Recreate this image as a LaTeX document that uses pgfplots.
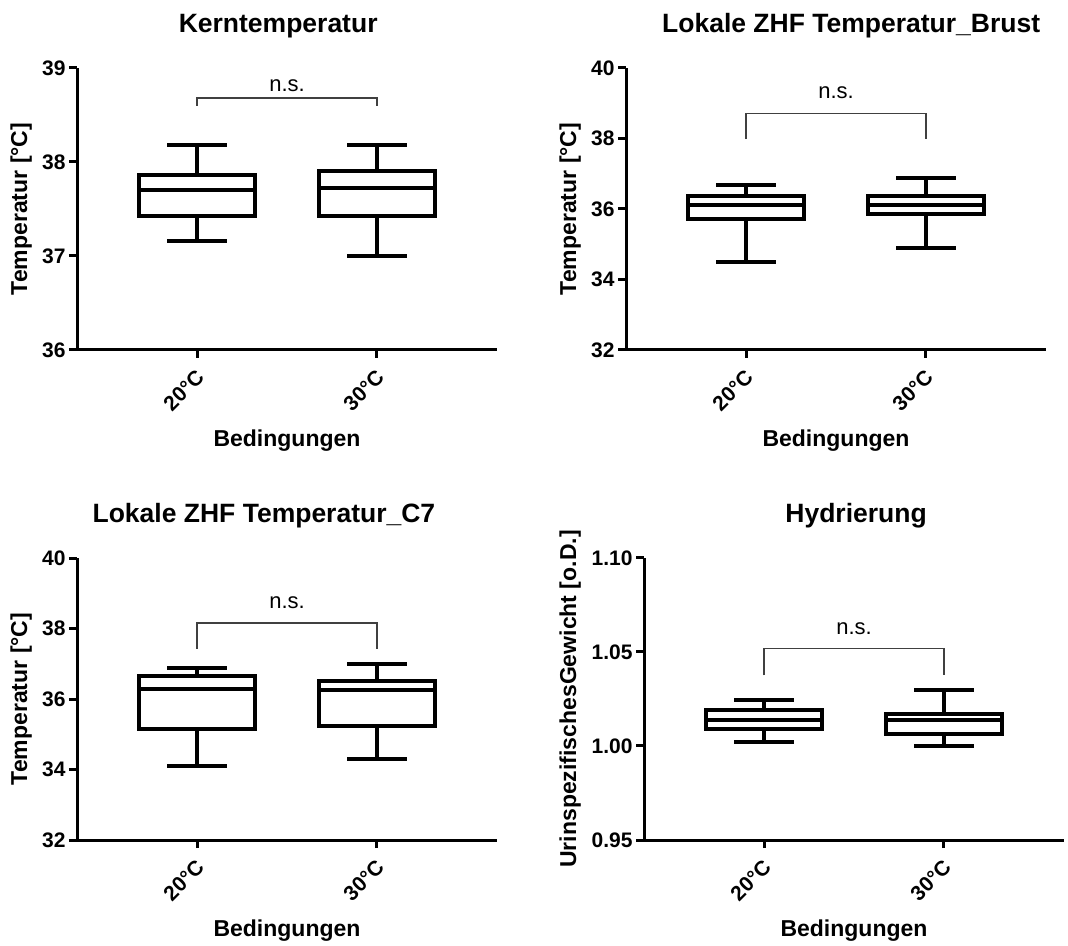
\documentclass[border=0pt]{standalone}
\usepackage{fontspec}
\setmainfont{Liberation Sans}
\usepackage{pgfplots}
\pgfplotsset{compat=1.18}
\usepgfplotslibrary{statistics}

\pgfplotsset{
  panel/.style={
    scale only axis, width=420pt, height=282pt,
    axis x line=bottom, axis y line=left,
    axis line style={-, line width=3pt},
    xmin=-0.667, xmax=1.667,
    xtick={0,1}, xticklabels={20°C,30°C},
    tick align=outside, major tick length=8pt,
    every tick/.style={black, line width=3pt},
    tick label style={font=\fontsize{21}{25}\selectfont\bfseries},
    xticklabel style={xshift=4pt, yshift=-15pt, rotate=45, anchor=east, inner sep=1pt},
    /pgf/number format/assume math mode=true,
    xlabel={Bedingungen},
    label style={font=\fontsize{23}{27}\selectfont\bfseries, inner sep=0pt},
    xlabel style={at={(axis description cs:0.5,-0.284)}, anchor=north},
    title style={font=\fontsize{26.5}{31}\selectfont\bfseries, anchor=base, inner sep=0pt},
    clip=false,
    boxplot/draw direction=y,
    boxplot/box extend=0.64,
    boxplot/whisker extend=0.33,
  },
  bx/.style={black, line width=4pt, fill=white, solid},
}
\tikzset{
  br/.style={black!75, line width=1.3pt},
  ns/.style={font=\fontsize{22}{26}\selectfont, anchor=base, inner sep=0pt},
}

\begin{document}
\begin{tikzpicture}
\useasboundingbox (0,0) rectangle (1068pt,945pt);

% Kerntemperatur
\begin{axis}[panel, at={(77pt,595pt)}, anchor=south west,
  ymin=36, ymax=39, ytick={36,37,38,39},
  ylabel={Temperatur [°C]},
  ylabel style={at={(axis description cs:-0.107,0.5)}, anchor=south},
  title={Kerntemperatur}, title style={at={(axis description cs:0.479,1.105)}}]
\addplot[bx, boxplot prepared={draw position=0, lower whisker=37.16, lower quartile=37.43, median=37.70, upper quartile=37.86, upper whisker=38.18}] coordinates {};
\addplot[bx, boxplot prepared={draw position=1, lower whisker=37.00, lower quartile=37.43, median=37.72, upper quartile=37.90, upper whisker=38.18}] coordinates {};
\draw[br] (axis cs:0,38.60) -- (axis cs:0,38.68) -- (axis cs:1,38.68) -- (axis cs:1,38.60);
\node[ns, yshift=7pt] at (axis cs:0.5,38.68) {n.s.};
\end{axis}

% Lokale ZHF Temperatur_Brust
\begin{axis}[panel, at={(626pt,595pt)}, anchor=south west,
  ymin=32, ymax=40, ytick={32,34,36,38,40},
  ylabel={Temperatur [°C]},
  ylabel style={at={(axis description cs:-0.107,0.5)}, anchor=south},
  title={Lokale ZHF Temperatur\_Brust}, title style={at={(axis description cs:0.536,1.105)}}]
\addplot[bx, boxplot prepared={draw position=0, lower whisker=34.50, lower quartile=35.73, median=36.11, upper quartile=36.36, upper whisker=36.69}] coordinates {};
\addplot[bx, boxplot prepared={draw position=1, lower whisker=34.90, lower quartile=35.85, median=36.11, upper quartile=36.36, upper whisker=36.89}] coordinates {};
\draw[br] (axis cs:0,37.98) -- (axis cs:0,38.70) -- (axis cs:1,38.70) -- (axis cs:1,37.98);
\node[ns, yshift=15pt] at (axis cs:0.5,38.70) {n.s.};
\end{axis}

% Lokale ZHF Temperatur_C7
\begin{axis}[panel, at={(77pt,105pt)}, anchor=south west,
  ymin=32, ymax=40, ytick={32,34,36,38,40},
  ylabel={Temperatur [°C]},
  ylabel style={at={(axis description cs:-0.107,0.5)}, anchor=south},
  title={Lokale ZHF Temperatur\_C7}, title style={at={(axis description cs:0.445,1.105)}}]
\addplot[bx, boxplot prepared={draw position=0, lower whisker=34.10, lower quartile=35.16, median=36.29, upper quartile=36.65, upper whisker=36.89}] coordinates {};
\addplot[bx, boxplot prepared={draw position=1, lower whisker=34.29, lower quartile=35.24, median=36.25, upper quartile=36.51, upper whisker=37.00}] coordinates {};
\draw[br] (axis cs:0,37.43) -- (axis cs:0,38.16) -- (axis cs:1,38.16) -- (axis cs:1,37.43);
\node[ns, yshift=14pt] at (axis cs:0.5,38.16) {n.s.};
\end{axis}

% Hydrierung
\begin{axis}[panel, at={(644pt,105pt)}, anchor=south west,
  ymin=0.95, ymax=1.10, ytick={0.95,1.00,1.05,1.10},
  yticklabel style={/pgf/number format/.cd, fixed, fixed zerofill, precision=2},
  ylabel={UrinspezifischesGewicht [o.D.]},
  ylabel style={at={(axis description cs:-0.15,0.5)}, anchor=south},
  title={Hydrierung}, title style={at={(axis description cs:0.505,1.105)}}]
\addplot[bx, boxplot prepared={draw position=0, lower whisker=1.002, lower quartile=1.0093, median=1.0137, upper quartile=1.019, upper whisker=1.0247}] coordinates {};
\addplot[bx, boxplot prepared={draw position=1, lower whisker=1.000, lower quartile=1.0063, median=1.0137, upper quartile=1.0172, upper whisker=1.030}] coordinates {};
\draw[br] (axis cs:0,1.0376) -- (axis cs:0,1.0517) -- (axis cs:1,1.0517) -- (axis cs:1,1.0376);
\node[ns, yshift=14pt] at (axis cs:0.5,1.0517) {n.s.};
\end{axis}
\end{tikzpicture}
\end{document}
